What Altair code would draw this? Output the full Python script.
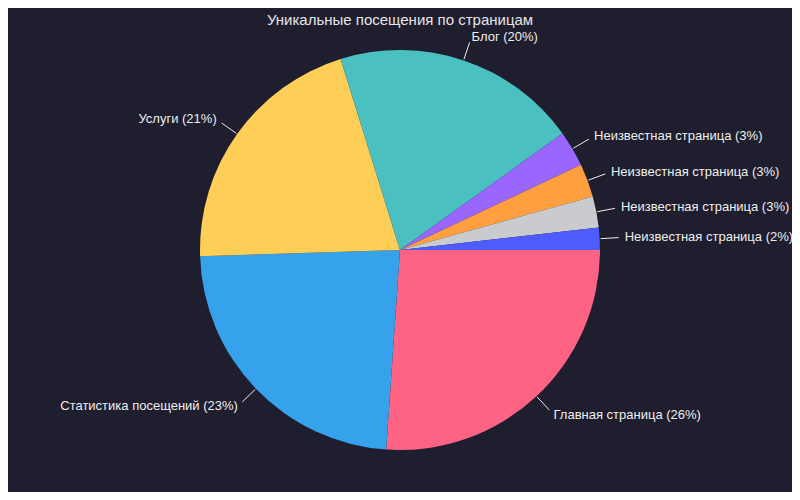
import math

import altair as alt
import pandas as pd

# ---------------------------------------------------------------------------
# Data
# ---------------------------------------------------------------------------

PAGES = [
    "Главная страница",
    "Статистика посещений",
    "Услуги",
    "Блог",
    "Неизвестная страница",
    "Неизвестная страница",
    "Неизвестная страница",
    "Неизвестная страница",
]
VISITS = [26.1, 23.4, 20.7, 19.9, 2.9, 2.7, 2.5, 1.8]
COLORS = [
    "#FF6384", "#36A2EB", "#FFCE56", "#4BC0C0",
    "#9966FF", "#FF9F40", "#C9CBCF", "#4D5BFF",
]
TITLE = "Уникальные посещения по страницам"

# ---------------------------------------------------------------------------
# Layout / theme
# ---------------------------------------------------------------------------

BG = "#1e1e2f"
FONT = "Liberation Sans"
W, H = 784, 424
R = 200

df = pd.DataFrame({"idx": list(range(len(PAGES))), "page": PAGES, "visits": VISITS})

x_scale = alt.Scale(domain=[-W / 2, W / 2])
y_scale = alt.Scale(domain=[-H / 2, H / 2])

base = (
    alt.Chart(df)
    .transform_joinaggregate(total="sum(visits)")
    .transform_window(
        cum="sum(visits)", sort=[alt.SortField("idx", order="ascending")], frame=[None, 0]
    )
    .transform_calculate(mid="(datum.cum - datum.visits / 2) / datum.total * 2 * PI + PI / 2")
    .transform_calculate(pct="round(datum.visits / datum.total * 100)")
    .transform_calculate(label="datum.page + ' (' + datum.pct + '%)'")
    .transform_calculate(x0=f"{R + 1} * sin(datum.mid)", y0=f"{R + 1} * cos(datum.mid)")
    .transform_calculate(x1=f"{R + 19} * sin(datum.mid)", y1=f"{R + 19} * cos(datum.mid)")
    .transform_calculate(xt=f"{R + 25} * sin(datum.mid)", yt=f"{R + 25} * cos(datum.mid)")
)

pie = (
    alt.Chart(df)
    .mark_arc(outerRadius=R)
    .encode(
        theta=alt.Theta(
            "visits:Q", stack=True, scale=alt.Scale(range=[math.pi / 2, 2.5 * math.pi])
        ),
        color=alt.Color(
            "idx:N", scale=alt.Scale(domain=list(range(len(COLORS))), range=COLORS), legend=None
        ),
        order=alt.Order("idx:Q"),
    )
)

leaders = base.mark_rule(color="#eeeeee", strokeWidth=1).encode(
    x=alt.X("x0:Q", scale=x_scale, axis=None),
    y=alt.Y("y0:Q", scale=y_scale, axis=None),
    x2="x1:Q",
    y2="y1:Q",
)


def labels(side_filter, align):
    return (
        base.transform_filter(side_filter)
        .mark_text(align=align, baseline="middle", font=FONT, fontSize=13, color="#eeeeee")
        .encode(
            x=alt.X("xt:Q", scale=x_scale, axis=None),
            y=alt.Y("yt:Q", scale=y_scale, axis=None),
            text="label:N",
        )
    )


chart = (
    alt.layer(
        pie,
        leaders,
        labels("datum.xt >= 0", "left"),
        labels("datum.xt < 0", "right"),
    )
    .properties(
        width=W,
        height=H,
        autosize=alt.AutoSizeParams(type="none"),
        padding={"top": 30, "bottom": 30, "left": 0, "right": 0},
        title=alt.TitleParams(
            TITLE, font=FONT, fontSize=15, fontWeight="normal",
            color="#e6e6e6", anchor="middle", offset=4, dy=1,
        ),
    )
    .configure(background=BG)
    .configure_view(stroke=None)
)

chart.save("out.html", embed_options={"renderer": "svg", "actions": False})
